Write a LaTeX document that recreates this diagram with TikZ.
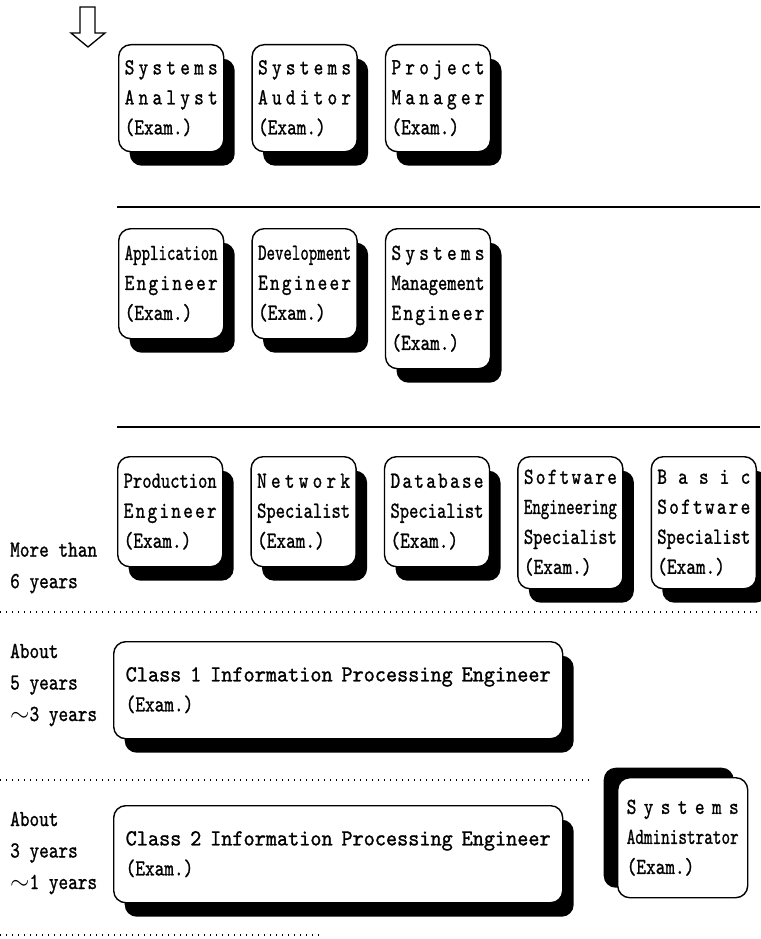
\documentclass[tikz,border=0pt]{standalone}
\usepackage{graphicx}
\usepackage{fontspec}
\usetikzlibrary{positioning, shadows}

\newfontfamily\examfont{lmmono10-regular.otf}[FakeStretch=0.8, FakeBold=1]

\newlength{\linew}
\setlength{\linew}{93pt}
\newcommand{\spread}[2][\linew]{\makebox[#1][s]{\spreadloop#2\relax}}
\def\spreadloop#1#2{#1\ifx\relax#2\else\hfill\expandafter\spreadloop\fi#2}
\newcommand{\squeeze}[2][\linew]{\resizebox{#1}{\height}{#2}}

\begin{document}
\begin{tikzpicture}
[
    x=1pt, y=-1pt,
    font=\examfont\fontsize{23}{30}\selectfont,
    base_box/.style={rectangle, draw=black, fill=white, line width=1.4pt, rounded corners=12pt, align=left, text width=93pt, inner xsep=6pt, inner ysep=0pt, anchor=north west},
    exam_box/.style={base_box, drop shadow={shadow xshift=11pt, shadow yshift=-14pt, fill=black, opacity=1}},
    wide_box/.style={exam_box, text width=425pt, inner xsep=12pt, minimum height=97pt},
    admin_box/.style={base_box, text width=112pt, inner xsep=9pt, minimum height=120pt, drop shadow={shadow xshift=-14pt, shadow yshift=10pt, fill=black, opacity=1}},
    years_label/.style={align=left, inner sep=0pt, anchor=west, font=\examfont\fontsize{23}{31.5}\selectfont},
]
    \path[use as bounding box] (0,0) rectangle (760,939);

    % hollow arrow
    \draw[line width=1.3pt] (80,7) -- (95,7) -- (95,33) -- (105,33) -- (88,47) -- (71,33) -- (80,33) -- cycle;

    % top row
    \node[exam_box, minimum height=107pt] (sa) at (118,44) {\spread{Systems}\\\spread{Analyst}\\(Exam.)};
    \node[exam_box, minimum height=107pt, right=27pt of sa.north east, anchor=north west] (saud) {\spread{Systems}\\\spread{Auditor}\\(Exam.)};
    \node[exam_box, minimum height=107pt, right=27pt of saud.north east, anchor=north west] (pm) {\spread{Project}\\\spread{Manager}\\(Exam.)};

    \draw[line width=1.5pt] (117,207) -- (760,207);

    % second row
    \node[exam_box, minimum height=110pt] (ae) at (118,228) {\squeeze{Application}\\\spread{Engineer}\\(Exam.)};
    \node[exam_box, minimum height=110pt, right=27pt of ae.north east, anchor=north west] (de) {\squeeze{Development}\\\spread{Engineer}\\(Exam.)};
    \node[exam_box, minimum height=140pt, right=27pt of de.north east, anchor=north west] (sme) {\spread{Systems}\\\squeeze{Management}\\\spread{Engineer}\\(Exam.)};

    \draw[line width=1.5pt] (117,427) -- (760,427);

    % third row
    \node[exam_box, minimum height=110pt] (pe) at (117,456) {\squeeze{Production}\\\spread{Engineer}\\(Exam.)};
    \node[exam_box, minimum height=110pt, right=27pt of pe.north east, anchor=north west] (ns) {\spread{Network}\\\squeeze{Specialist}\\(Exam.)};
    \node[exam_box, minimum height=110pt, right=27pt of ns.north east, anchor=north west] (ds) {\spread{Database}\\\squeeze{Specialist}\\(Exam.)};
    \node[exam_box, minimum height=132pt, right=27pt of ds.north east, anchor=north west] (ses) {\spread{Software}\\\squeeze{Engineering}\\\squeeze{Specialist}\\(Exam.)};
    \node[exam_box, minimum height=132pt, right=27pt of ses.north east, anchor=north west] (bss) {\spread{Basic}\\\spread{Software}\\\squeeze{Specialist}\\(Exam.)};
    \node[years_label] (y6) at (10,568) {More than\\6 years};

    \draw[line width=1.4pt, dash pattern=on 1.4pt off 4.6pt] (0,612) -- (760,612);

    % class 1
    \node[wide_box] (ip1) at (113,641) {\squeeze[425pt]{Class 1 Information Processing Engineer}\\(Exam.)};
    \node[years_label] (y53) at (10,685) {About\\5 years\\$\sim$3 years};

    \draw[line width=1.4pt, dash pattern=on 1.4pt off 4.6pt] (0,780) -- (590,780);

    % class 2 and administrator
    \node[wide_box] (ip2) at (113,805) {\squeeze[425pt]{Class 2 Information Processing Engineer}\\(Exam.)};
    \node[admin_box] (sadm) at (617,777) {\spread[112pt]{Systems}\\\squeeze[112pt]{Administrator}\\(Exam.)};
    \node[years_label] (y31) at (10,853) {About\\3 years\\$\sim$1 years};

    \draw[line width=1.4pt, dash pattern=on 1.4pt off 4.6pt] (0,935) -- (320,935);
\end{tikzpicture}
\end{document}
